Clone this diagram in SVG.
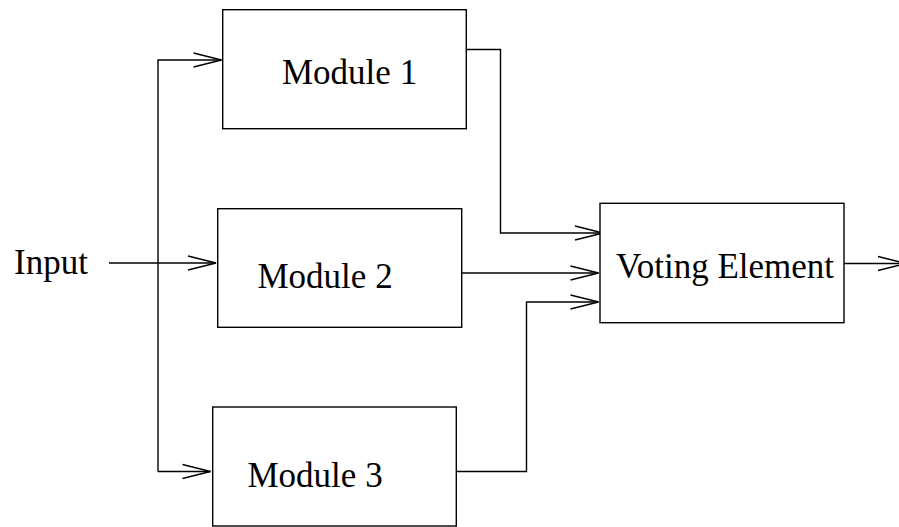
<svg xmlns="http://www.w3.org/2000/svg" width="899" height="527" viewBox="0 0 899 527">
<style>
.box{fill:#fff;stroke:#000;stroke-width:1.4}
.lbl{font-family:"Liberation Serif","Times New Roman",serif;font-size:35px;fill:#000}
.wire{fill:none;stroke:#000;stroke-width:1.4}
</style>
<defs>
<marker id="ah" markerUnits="userSpaceOnUse" markerWidth="40" markerHeight="20" viewBox="-30 -10 32 20" refX="0" refY="0" orient="auto">
<path d="M-28,-7 L0,0 L-28,7" fill="none" stroke="#000" stroke-width="1.4"/>
</marker>
</defs>
<rect width="899" height="527" fill="#fff"/>
<g id="connectors">
<path class="wire" d="M109,263 L216,263" marker-end="url(#ah)"/>
<path class="wire" d="M158,471.5 L158,60 L221.5,60" marker-end="url(#ah)"/>
<path class="wire" d="M158,471.5 L210.5,471.5" marker-end="url(#ah)"/>
<path class="wire" d="M466,49.5 L500.5,49.5 L500.5,233 L603,233" marker-end="url(#ah)"/>
<path class="wire" d="M461.5,273 L598.5,273" marker-end="url(#ah)"/>
<path class="wire" d="M456.5,471.5 L526.5,471.5 L526.5,302 L598.5,302" marker-end="url(#ah)"/>
<path class="wire" d="M844,263.5 L906,263.5" marker-end="url(#ah)"/>
</g>
<g id="input"><text class="lbl" x="14" y="273.5">Input</text></g>
<g id="module1">
<rect class="box" x="222.7" y="9.7" width="243.6" height="119"/>
<text class="lbl" x="282" y="83.5">Module 1</text>
</g>
<g id="module2">
<rect class="box" x="217.7" y="208.7" width="244" height="118.6"/>
<text class="lbl" x="257.5" y="288">Module 2</text>
</g>
<g id="module3">
<rect class="box" x="212.7" y="407" width="243.6" height="119"/>
<text class="lbl" x="247.5" y="487">Module 3</text>
</g>
<g id="voting">
<rect class="box" x="600" y="203.3" width="244" height="119.4"/>
<text class="lbl" x="616" y="278">Voting Element</text>
</g>
</svg>
